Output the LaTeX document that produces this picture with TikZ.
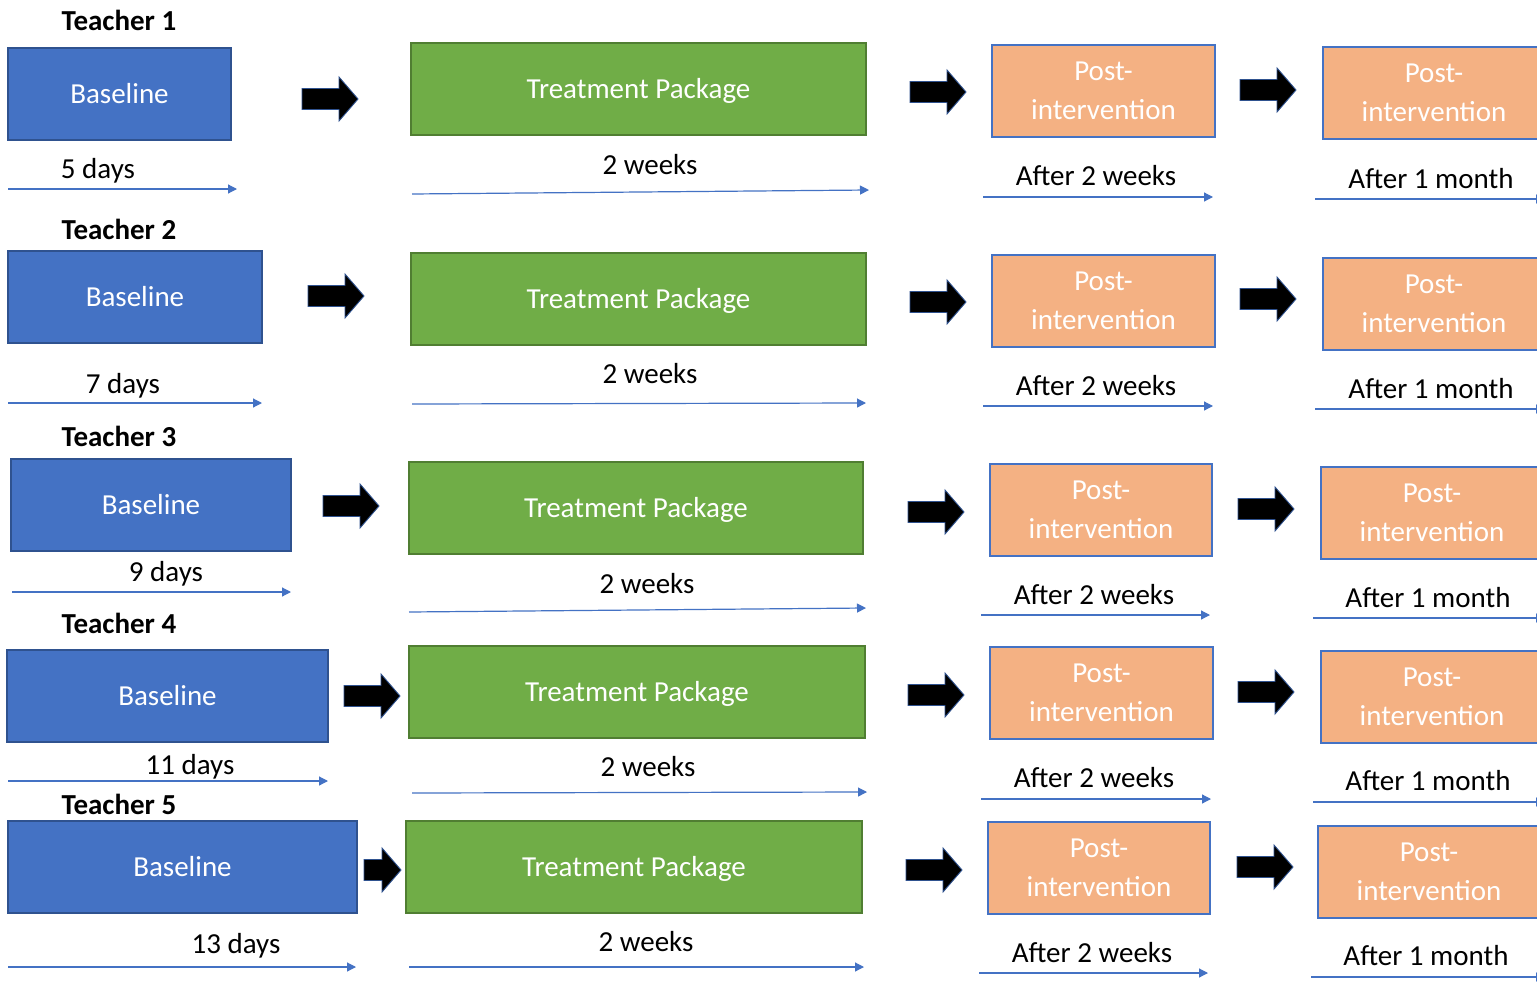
\documentclass[tikz,border=0pt]{standalone}
\usepackage{fontspec}
\setmainfont{Carlito}
\usetikzlibrary{arrows.meta}
\definecolor{bfill}{HTML}{4472C4}
\definecolor{bdraw}{HTML}{2F528F}
\definecolor{gfill}{HTML}{70AD47}
\definecolor{gdraw}{HTML}{507E32}
\definecolor{ofill}{HTML}{F4B183}
\definecolor{tlblue}{HTML}{4472C4}
\newcommand{\fs}{\fontsize{29}{39}\selectfont}
\newcommand{\blkarr}[3]{\draw[blkarrow] (#1,#2) ++(0,-10.5) -- ++(#3,0) -- ++(0,-11.5) -- ++(19,22) -- ++(-19,22) -- ++(0,-11.5) -- ++(-#3,0) -- cycle;}
\tikzset{
  boxbase/.style={rectangle, inner sep=0pt, outer sep=0pt, minimum height=92pt, line width=1.4pt, font=\fs, text=white},
  basebox/.style={boxbase, draw=bdraw, fill=bfill, text height=18.5pt, text depth=0pt},
  treatbox/.style={boxbase, draw=gdraw, fill=gfill, text height=18.5pt, text depth=0pt},
  postbox/.style={boxbase, draw=bfill, fill=ofill, align=center, minimum width=223pt},
  lbl/.style={font=\fs, text=black, anchor=base, inner sep=0pt},
  teach/.style={font=\fs\bfseries, text=black, anchor=base, inner sep=0pt},
  tline/.style={draw=tlblue, line width=1.2pt, -{Triangle[length=9pt,width=9pt]}},
  blkarrow/.style={fill=black, draw=bdraw, line width=0.9pt, line join=miter}
}
\begin{document}
\begin{tikzpicture}[x=1pt,y=-1pt]
\useasboundingbox (0,0) rectangle (1537,982);
\clip (0,0) rectangle (1537,982);
\fill[white] (0,0) rectangle (1537,982);

% ---------- Row 1 ----------
\node[teach] (h1) at (119,31) {Teacher 1};
\node[basebox, minimum width=223pt] (b1) at (119.5,94) {Baseline};
\node[treatbox, minimum width=455pt] (t1) at (638.5,89) {Treatment Package};
\node[postbox] (p1) at (1103.5,91) {Post-\\intervention};
\node[postbox, minimum width=222pt] (q1) at (1434,93) {Post-\\intervention};
\node[lbl] (lb1) at (98,178) {5 days};
\node[lbl] (lt1) at (650,174) {2 weeks};
\node[lbl] (lp1) at (1096,185) {After 2 weeks};
\node[lbl] (lq1) at (1431,188) {After 1 month};
\coordinate (b1s) at (8,189); \coordinate (b1e) at (237,189);
\coordinate (t1s) at (412,194); \coordinate (t1e) at (869,190);
\coordinate (p1s) at (983,197); \coordinate (p1e) at (1213,197);
\coordinate (q1s) at (1315,199); \coordinate (q1e) at (1545,199);
\draw[tline] (b1s) -- (b1e);
\draw[tline] (t1s) -- (t1e);
\draw[tline] (p1s) -- (p1e);
\draw[tline] (q1s) -- (q1e);
\blkarr{302}{99}{37}
\blkarr{910}{92}{37}
\blkarr{1240}{90}{37}

% ---------- Row 2 ----------
\node[teach] (h2) at (119,239) {Teacher 2};
\node[basebox, minimum width=254pt] (b2) at (135,297) {Baseline};
\node[treatbox, minimum width=455pt] (t2) at (638.5,299) {Treatment Package};
\node[postbox] (p2) at (1103.5,301) {Post-\\intervention};
\node[postbox, minimum width=222pt] (q2) at (1434,304) {Post-\\intervention};
\node[lbl] (lb2) at (123,393) {7 days};
\node[lbl] (lt2) at (650,383) {2 weeks};
\node[lbl] (lp2) at (1096,395) {After 2 weeks};
\node[lbl] (lq2) at (1431,398) {After 1 month};
\coordinate (b2s) at (8,403); \coordinate (b2e) at (262,403);
\coordinate (t2s) at (412,404); \coordinate (t2e) at (866,403);
\coordinate (p2s) at (983,406); \coordinate (p2e) at (1213,406);
\coordinate (q2s) at (1315,409); \coordinate (q2e) at (1545,409);
\draw[tline] (b2s) -- (b2e);
\draw[tline] (t2s) -- (t2e);
\draw[tline] (p2s) -- (p2e);
\draw[tline] (q2s) -- (q2e);
\blkarr{308}{296}{37}
\blkarr{910}{302}{37}
\blkarr{1240}{299}{37}

% ---------- Row 3 ----------
\node[teach] (h3) at (119,446) {Teacher 3};
\node[basebox, minimum width=280pt] (b3) at (151,505) {Baseline};
\node[treatbox, minimum width=454pt] (t3) at (636,508) {Treatment Package};
\node[postbox, minimum width=222pt] (p3) at (1101,510) {Post-\\intervention};
\node[postbox, minimum width=222pt] (q3) at (1432,513) {Post-\\intervention};
\node[lbl] (lb3) at (166,581) {9 days};
\node[lbl] (lt3) at (647,593) {2 weeks};
\node[lbl] (lp3) at (1094,604) {After 2 weeks};
\node[lbl] (lq3) at (1428,607) {After 1 month};
\coordinate (b3s) at (12,592); \coordinate (b3e) at (291,592);
\coordinate (t3s) at (409,612); \coordinate (t3e) at (866,608);
\coordinate (p3s) at (981,615); \coordinate (p3e) at (1210,615);
\coordinate (q3s) at (1313,618); \coordinate (q3e) at (1545,618);
\draw[tline] (b3s) -- (b3e);
\draw[tline] (t3s) -- (t3e);
\draw[tline] (p3s) -- (p3e);
\draw[tline] (q3s) -- (q3e);
\blkarr{323}{506}{37}
\blkarr{908}{512}{37}
\blkarr{1238}{509}{37}

% ---------- Row 4 ----------
\node[teach] (h4) at (119,633) {Teacher 4};
\node[basebox, minimum width=321pt] (b4) at (167.5,696) {Baseline};
\node[treatbox, minimum width=456pt] (t4) at (637,692) {Treatment Package};
\node[postbox] (p4) at (1101.5,693) {Post-\\intervention};
\node[postbox, minimum width=222pt] (q4) at (1432,697) {Post-\\intervention};
\node[lbl] (lb4) at (190,774) {11 days};
\node[lbl] (lt4) at (648,776) {2 weeks};
\node[lbl] (lp4) at (1094,787) {After 2 weeks};
\node[lbl] (lq4) at (1428,790) {After 1 month};
\coordinate (b4s) at (8,781); \coordinate (b4e) at (328,781);
\coordinate (t4s) at (412,793); \coordinate (t4e) at (867,792);
\coordinate (p4s) at (981,799); \coordinate (p4e) at (1211,799);
\coordinate (q4s) at (1313,802); \coordinate (q4e) at (1545,802);
\draw[tline] (b4s) -- (b4e);
\draw[tline] (t4s) -- (t4e);
\draw[tline] (p4s) -- (p4e);
\draw[tline] (q4s) -- (q4e);
\blkarr{344}{696}{37}
\blkarr{908}{695}{37}
\blkarr{1238}{692}{37}

% ---------- Row 5 ----------
\node[teach] (h5) at (119,814) {Teacher 5};
\node[basebox, minimum width=349pt] (b5) at (182.5,867) {Baseline};
\node[treatbox, minimum width=456pt] (t5) at (634,867) {Treatment Package};
\node[postbox, minimum width=222pt] (p5) at (1099,868) {Post-\\intervention};
\node[postbox, minimum width=222pt] (q5) at (1429,872) {Post-\\intervention};
\node[lbl] (lb5) at (236,953) {13 days};
\node[lbl] (lt5) at (646,951) {2 weeks};
\node[lbl] (lp5) at (1092,962) {After 2 weeks};
\node[lbl] (lq5) at (1426,965) {After 1 month};
\coordinate (b5s) at (8,967); \coordinate (b5e) at (356,967);
\coordinate (t5s) at (409,967); \coordinate (t5e) at (864,967);
\coordinate (p5s) at (979,973); \coordinate (p5e) at (1208,973);
\coordinate (q5s) at (1311,977); \coordinate (q5e) at (1545,977);
\draw[tline] (b5s) -- (b5e);
\draw[tline] (t5s) -- (t5e);
\draw[tline] (p5s) -- (p5e);
\draw[tline] (q5s) -- (q5e);
\blkarr{364}{870}{18}
\blkarr{906}{870}{37}
\blkarr{1237}{867}{37}
\end{tikzpicture}
\end{document}
